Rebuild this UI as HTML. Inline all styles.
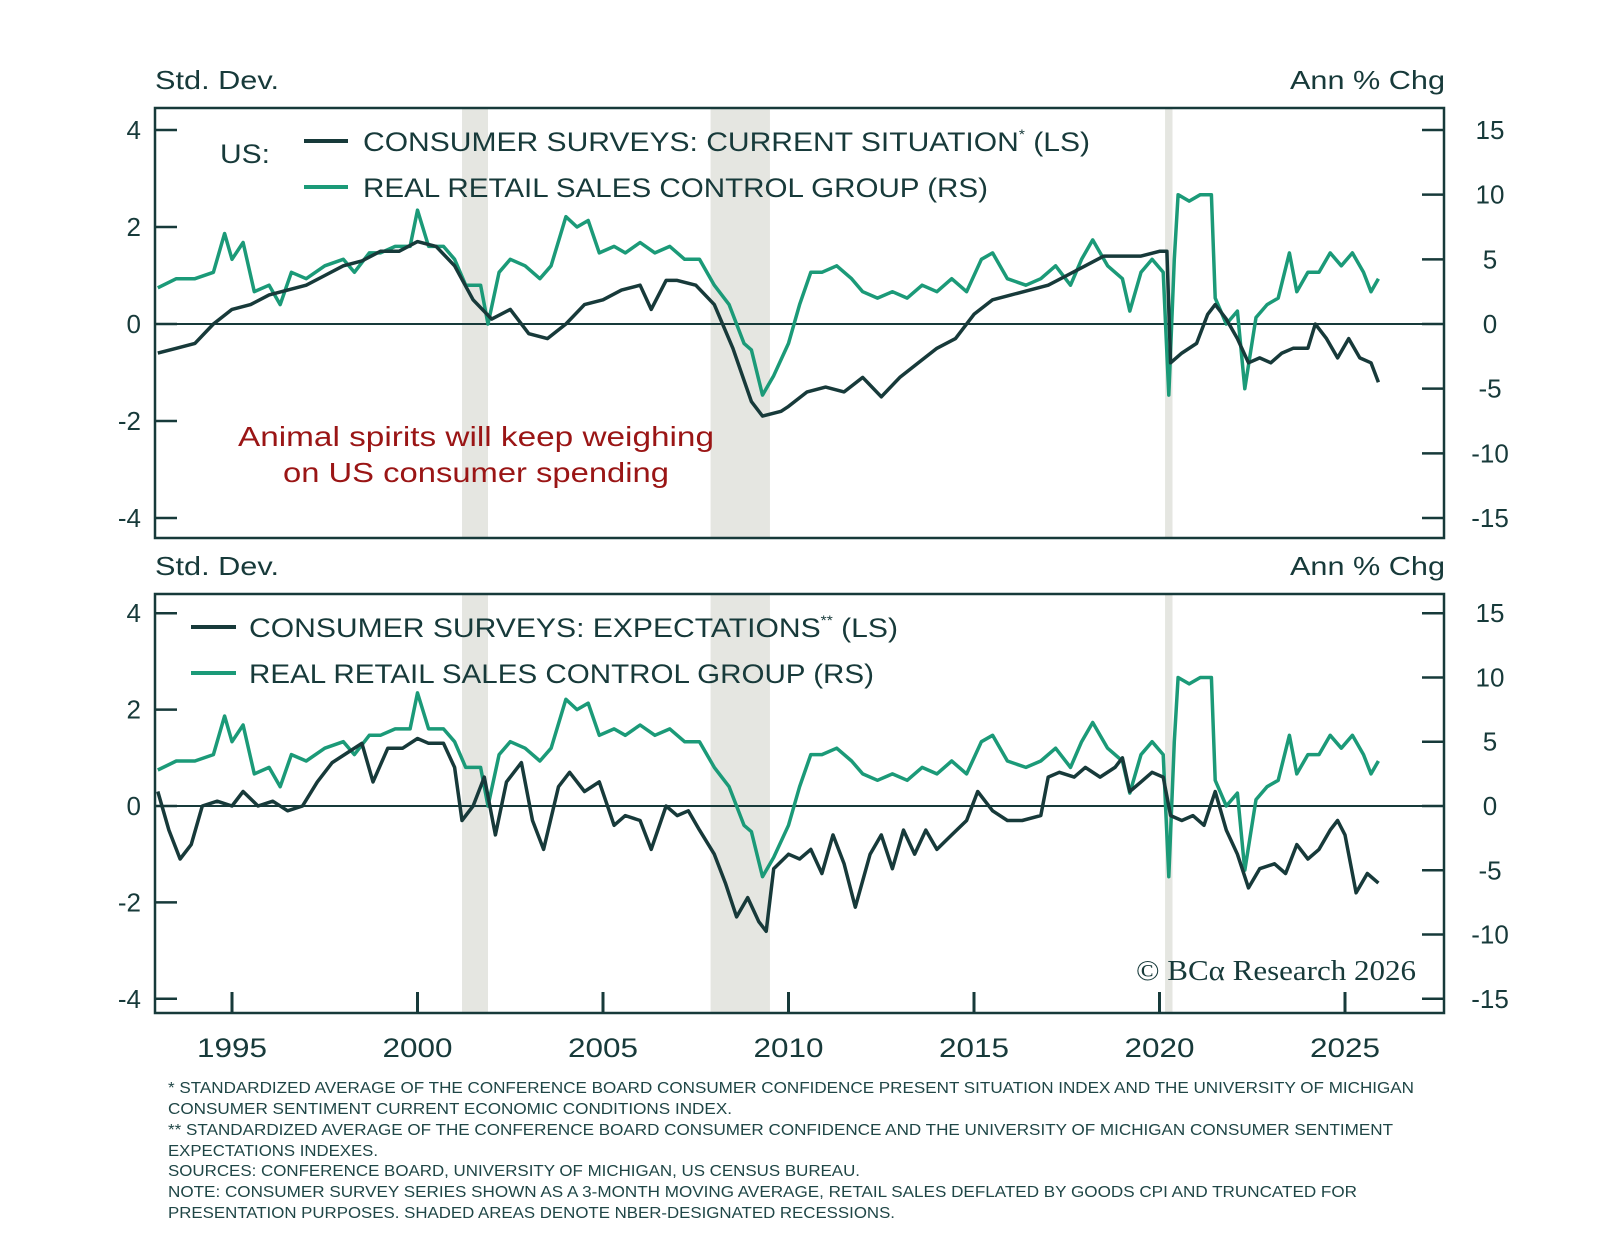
<!DOCTYPE html>
<html><head><meta charset="utf-8"><style>
html,body{margin:0;padding:0;background:#fff;}
svg{display:block;font-family:"Liberation Sans",sans-serif;}
</style></head><body>
<svg id="chart" width="1600" height="1235" viewBox="0 0 1600 1235"></svg>
<script>
const years=[1993,1993.5,1994,1994.5,1995,1995.5,1996,1996.5,1997,1997.5,1998,1998.5,1999,1999.5,2000,2000.5,2001,2001.5,2002,2002.5,2003,2003.5,2004,2004.5,2005,2005.5,2006,2006.3,2006.7,2007,2007.5,2008,2008.5,2009,2009.3,2009.8,2010,2010.5,2011,2011.5,2012,2012.5,2013,2013.5,2014,2014.5,2015,2015.5,2016,2016.5,2017,2017.5,2018,2018.5,2019,2019.5,2020,2020.2,2020.3,2020.6,2021,2021.3,2021.5,2021.8,2022.1,2022.4,2022.7,2023,2023.3,2023.6,2024,2024.2,2024.5,2024.8,2025.1,2025.4,2025.7,2025.9];
const currentVals=[-0.6,-0.5,-0.4,0.0,0.3,0.4,0.6,0.7,0.8,1.0,1.2,1.3,1.5,1.5,1.7,1.6,1.2,0.5,0.1,0.3,-0.2,-0.3,0.0,0.4,0.5,0.7,0.8,0.3,0.9,0.9,0.8,0.4,-0.5,-1.6,-1.9,-1.8,-1.7,-1.4,-1.3,-1.4,-1.1,-1.5,-1.1,-0.8,-0.5,-0.3,0.2,0.5,0.6,0.7,0.8,1.0,1.2,1.4,1.4,1.4,1.5,1.5,-0.8,-0.6,-0.4,0.2,0.4,0.1,-0.3,-0.8,-0.7,-0.8,-0.6,-0.5,-0.5,0.0,-0.3,-0.7,-0.3,-0.7,-0.8,-1.2];
const retailYears=[1993,1993.5,1994,1994.5,1994.8,1995,1995.3,1995.6,1996,1996.3,1996.6,1997,1997.5,1998,1998.3,1998.7,1999,1999.4,1999.8,2000,2000.3,2000.7,2001,2001.3,2001.7,2001.9,2002.2,2002.5,2002.9,2003.3,2003.6,2004,2004.3,2004.6,2004.9,2005.3,2005.6,2006,2006.4,2006.8,2007.2,2007.6,2008,2008.4,2008.8,2009,2009.3,2009.6,2010,2010.3,2010.6,2010.9,2011.3,2011.7,2012,2012.4,2012.8,2013.2,2013.6,2014,2014.4,2014.8,2015.2,2015.5,2015.9,2016.4,2016.8,2017.2,2017.6,2017.9,2018.2,2018.6,2019,2019.2,2019.5,2019.8,2020.1,2020.25,2020.4,2020.5,2020.8,2021.1,2021.4,2021.5,2021.8,2022.1,2022.3,2022.6,2022.9,2023.2,2023.5,2023.7,2024,2024.3,2024.6,2024.9,2025.2,2025.5,2025.7,2025.9];
const retailVals=[2.8,3.5,3.5,4.0,7.0,5.0,6.3,2.5,3.0,1.5,4.0,3.5,4.5,5.0,4.0,5.5,5.5,6.0,6.0,8.8,6.0,6.0,5.0,3.0,3.0,0.0,4.0,5.0,4.5,3.5,4.5,8.3,7.5,8.0,5.5,6.0,5.5,6.3,5.5,6.0,5.0,5.0,3.0,1.5,-1.5,-2.0,-5.5,-4.0,-1.5,1.5,4.0,4.0,4.5,3.5,2.5,2.0,2.5,2.0,3.0,2.5,3.5,2.5,5.0,5.5,3.5,3.0,3.5,4.5,3.0,5.0,6.5,4.5,3.5,1.0,4.0,5.0,4.0,-5.5,5.0,10.0,9.5,10.0,10.0,2.0,0.0,1.0,-5.0,0.5,1.5,2.0,5.5,2.5,4.0,4.0,5.5,4.5,5.5,4.0,2.5,3.5];
const expYears=[1993,1993.3,1993.6,1993.9,1994.2,1994.6,1995,1995.3,1995.7,1996.1,1996.5,1996.9,1997.3,1997.7,1998.1,1998.5,1998.8,1999.2,1999.6,2000,2000.3,2000.7,2001,2001.2,2001.5,2001.8,2002.1,2002.4,2002.8,2003.1,2003.4,2003.8,2004.1,2004.5,2004.9,2005.3,2005.6,2006,2006.3,2006.7,2007,2007.3,2007.6,2008,2008.3,2008.6,2008.9,2009.2,2009.4,2009.6,2010,2010.3,2010.6,2010.9,2011.2,2011.5,2011.8,2012.2,2012.5,2012.8,2013.1,2013.4,2013.7,2014,2014.4,2014.8,2015.1,2015.5,2015.9,2016.3,2016.8,2017,2017.3,2017.7,2018,2018.4,2018.8,2019,2019.2,2019.5,2019.8,2020.1,2020.3,2020.6,2020.9,2021.2,2021.5,2021.8,2022.1,2022.4,2022.7,2023.1,2023.4,2023.7,2024,2024.3,2024.6,2024.8,2025,2025.3,2025.6,2025.9];
const expVals=[0.3,-0.5,-1.1,-0.8,0.0,0.1,0.0,0.3,0.0,0.1,-0.1,0.0,0.5,0.9,1.1,1.3,0.5,1.2,1.2,1.4,1.3,1.3,0.8,-0.3,0.0,0.6,-0.6,0.5,0.9,-0.3,-0.9,0.4,0.7,0.3,0.5,-0.4,-0.2,-0.3,-0.9,0.0,-0.2,-0.1,-0.5,-1.0,-1.6,-2.3,-1.9,-2.4,-2.6,-1.3,-1.0,-1.1,-0.9,-1.4,-0.6,-1.2,-2.1,-1.0,-0.6,-1.3,-0.5,-1.0,-0.5,-0.9,-0.6,-0.3,0.3,-0.1,-0.3,-0.3,-0.2,0.6,0.7,0.6,0.8,0.6,0.8,1.0,0.3,0.5,0.7,0.6,-0.2,-0.3,-0.2,-0.4,0.3,-0.5,-1.0,-1.7,-1.3,-1.2,-1.4,-0.8,-1.1,-0.9,-0.5,-0.3,-0.6,-1.8,-1.4,-1.6];
const recessions=[[2001.2,2001.9],[2007.9,2009.5],[2020.15,2020.35]];
const leftTicks=[4,2,0,-2,-4];
const rightTicks=[15,10,5,0,-5,-10,-15];
const xTicks=[1995,2000,2005,2010,2015,2020,2025];

const NS="http://www.w3.org/2000/svg";
const svg=document.getElementById('chart');
const DARK="#173a3a",GREEN="#1b9a78";
const X0=155,X1=1444;
const x=y=>232+(y-1995)*37.1;
function el(tag,attrs,parent){const e=document.createElementNS(NS,tag);for(const k in attrs)e.setAttribute(k,attrs[k]);(parent||svg).appendChild(e);return e;}
function txt(s,attrs,parent){const t=el('text',attrs,parent);t.textContent=s;return t;}

const panels=[
 {top:108,bottom:538,zero:324,unit:48.5,series:currentVals,sy:years,name:'top'},
 {top:594,bottom:1013,zero:806,unit:48.2,series:expVals,sy:expYears,name:'bottom'}
];
panels.forEach((p,pi)=>{
 const g=el('g',{});
 
 
 const yL=v=>p.zero-v*p.unit;
 const yR=v=>p.zero-v*p.unit*4/15;
 recessions.forEach(r=>{
  const rc=el('rect',{x:x(r[0]),y:p.top+1,width:x(r[1])-x(r[0]),height:p.bottom-p.top-2,fill:'#e5e6e1'},g);
  
  
 });
 const zl=el('line',{x1:X0,x2:X1,y1:yL(0),y2:yL(0),stroke:DARK,'stroke-width':2},g);
 
 
 leftTicks.forEach(v=>{
  el('line',{x1:X0,x2:X0+22,y1:yL(v),y2:yL(v),stroke:DARK,'stroke-width':2.5},g);
  const t=txt(String(v),{x:141,y:yL(v)+9,'text-anchor':'end','font-size':26,fill:DARK},g);
  
  
 });
 rightTicks.forEach(v=>{
  el('line',{x1:X1-22,x2:X1,y1:yR(v),y2:yR(v),stroke:DARK,'stroke-width':2.5},g);
  const t=txt(String(v),{x:1490,y:yR(v)+9,'text-anchor':'middle','font-size':26,fill:DARK},g);
  
  
 });
 const rp=el('polyline',{points:retailYears.map((yy,i)=>x(yy).toFixed(1)+','+yR(retailVals[i]).toFixed(1)).join(' '),fill:'none',stroke:GREEN,'stroke-width':3.5,'stroke-linejoin':'round'},g);
 
 
 const sp=el('polyline',{points:p.sy.map((yy,i)=>x(yy).toFixed(1)+','+yL(p.series[i]).toFixed(1)).join(' '),fill:'none',stroke:DARK,'stroke-width':3.5,'stroke-linejoin':'round'},g);
 
 
 const fr=el('rect',{x:X0,y:p.top,width:X1-X0,height:p.bottom-p.top,fill:'none',stroke:DARK,'stroke-width':2.5},g);
 
 
 const la=txt('Std. Dev.',{x:155,y:p.top-19,'font-size':26,fill:DARK,textLength:124,lengthAdjust:'spacingAndGlyphs'},g);
 
 
 const ra=txt('Ann % Chg',{x:1290,y:p.top-19,'font-size':26,fill:DARK,textLength:155,lengthAdjust:'spacingAndGlyphs'},g);
 
 
});
xTicks.forEach(v=>{
 el('line',{x1:x(v),x2:x(v),y1:1013,y2:992,stroke:DARK,'stroke-width':3});
 const t=txt(String(v),{x:x(v),y:1057,'text-anchor':'middle','font-size':27,fill:DARK,textLength:70,lengthAdjust:'spacingAndGlyphs'});
 
 
});
</script>
<svg width="1600" height="1235" style="position:absolute;left:0;top:0;font-family:'Liberation Sans',sans-serif">
 <g fill="#173a3a" font-size="27">
  <text x="220" y="163" textLength="50" lengthAdjust="spacingAndGlyphs">US:</text>
  <line x1="304" x2="348" y1="141" y2="141" stroke="#173a3a" stroke-width="4"/>
  <text x="363" y="151" textLength="727" lengthAdjust="spacingAndGlyphs">CONSUMER SURVEYS: CURRENT SITUATION<tspan font-size="14" dy="-12">*</tspan><tspan dy="12"> (LS)</tspan></text>
  <line x1="304" x2="348" y1="187" y2="187" stroke="#1b9a78" stroke-width="4"/>
  <text x="363" y="197" textLength="625" lengthAdjust="spacingAndGlyphs">REAL RETAIL SALES CONTROL GROUP (RS)</text>
  <line x1="191" x2="236" y1="627" y2="627" stroke="#173a3a" stroke-width="4"/>
  <text x="249" y="637" textLength="649" lengthAdjust="spacingAndGlyphs">CONSUMER SURVEYS: EXPECTATIONS<tspan font-size="14" dy="-12">**</tspan><tspan dy="12"> (LS)</tspan></text>
  <line x1="191" x2="236" y1="673" y2="673" stroke="#1b9a78" stroke-width="4"/>
  <text x="249" y="683" textLength="625" lengthAdjust="spacingAndGlyphs">REAL RETAIL SALES CONTROL GROUP (RS)</text>
 </g>
 <g fill="#9a1515" font-size="28">
  <text x="238" y="446" textLength="476" lengthAdjust="spacingAndGlyphs">Animal spirits will keep weighing</text>
  <text x="283" y="482" textLength="386" lengthAdjust="spacingAndGlyphs">on US consumer spending</text>
 </g>
 <text x="1136" y="980" textLength="280" lengthAdjust="spacingAndGlyphs" font-family="'Liberation Serif',serif" font-size="28" fill="#173a3a">© BCα Research 2026</text>
 <g fill="#1f4646" font-size="15.5">
  <text x="168" y="1093" textLength="1246" lengthAdjust="spacingAndGlyphs">* STANDARDIZED AVERAGE OF THE CONFERENCE BOARD CONSUMER CONFIDENCE PRESENT SITUATION INDEX AND THE UNIVERSITY OF MICHIGAN</text>
  <text x="168" y="1114" textLength="564" lengthAdjust="spacingAndGlyphs">CONSUMER SENTIMENT CURRENT ECONOMIC CONDITIONS INDEX.</text>
  <text x="168" y="1135" textLength="1225" lengthAdjust="spacingAndGlyphs">** STANDARDIZED AVERAGE OF THE CONFERENCE BOARD CONSUMER CONFIDENCE AND THE UNIVERSITY OF MICHIGAN CONSUMER SENTIMENT</text>
  <text x="168" y="1156" textLength="210" lengthAdjust="spacingAndGlyphs">EXPECTATIONS INDEXES.</text>
  <text x="168" y="1176" textLength="692" lengthAdjust="spacingAndGlyphs">SOURCES: CONFERENCE BOARD, UNIVERSITY OF MICHIGAN, US CENSUS BUREAU.</text>
  <text x="168" y="1197" textLength="1189" lengthAdjust="spacingAndGlyphs">NOTE: CONSUMER SURVEY SERIES SHOWN AS A 3-MONTH MOVING AVERAGE, RETAIL SALES DEFLATED BY GOODS CPI AND TRUNCATED FOR</text>
  <text x="168" y="1218" textLength="727" lengthAdjust="spacingAndGlyphs">PRESENTATION PURPOSES. SHADED AREAS DENOTE NBER-DESIGNATED RECESSIONS.</text>
 </g>
</svg>
</body></html>
